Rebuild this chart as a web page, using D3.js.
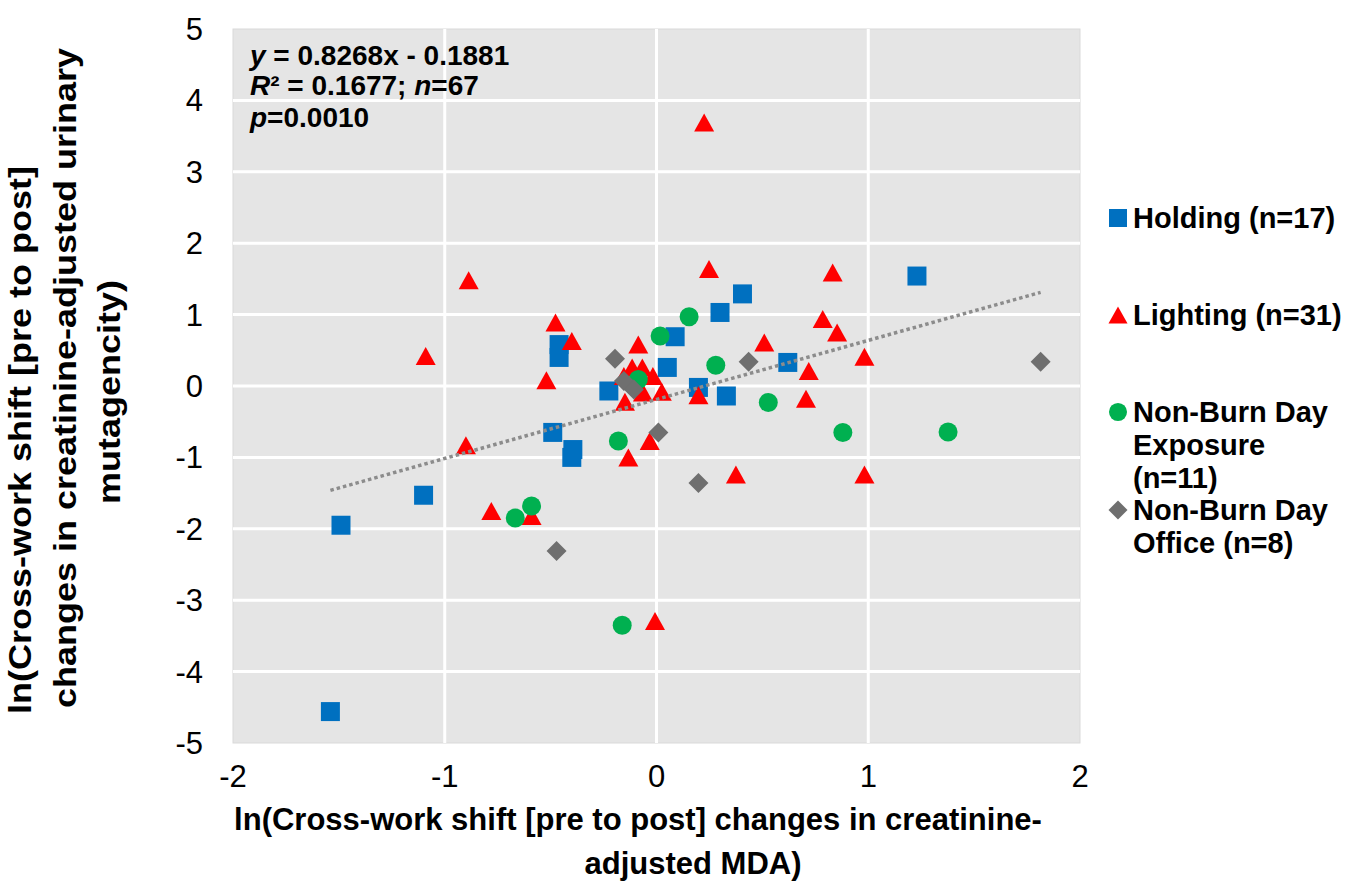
<!DOCTYPE html>
<html>
<head>
<meta charset="utf-8">
<script src="https://cdn.jsdelivr.net/npm/d3@7"></script>
<style>
body {margin:0; background:#fff; overflow:hidden;}
text {font-family: "Liberation Sans", Arial, sans-serif; fill:#000;}
</style>
</head>
<body>
<div id="canvas"></div>
<script>

// values
var xTicks = [-2, -1, 0, 1, 2];
var yTicks = [5, 4, 3, 2, 1, 0, -1, -2, -3, -4, -5];

var holding = [[1.23,1.54],[-1.49,-1.95],[-1.10,-1.53],[-1.54,-4.56],[-0.46,0.58],[-0.46,0.40],
  [-0.225,-0.07],[-0.49,-0.65],[-0.395,-0.89],[-0.40,-1.0],[0.088,0.69],[0.051,0.26],
  [0.198,-0.02],[0.33,-0.14],[0.30,1.03],[0.406,1.29],[0.62,0.33]];

var lighting = [[0.225,3.69],[-1.09,0.42],[-0.887,1.48],[-0.90,-0.83],[-0.78,-1.75],[-0.59,-1.82],
  [-0.52,0.08],[-0.477,0.89],[-0.40,0.63],[-0.086,0.58],[-0.154,0.14],[-0.115,0.26],
  [-0.067,0.26],[-0.017,0.14],[-0.064,-0.09],[0.025,-0.08],[-0.149,-0.22],[0.198,-0.13],
  [-0.032,-0.77],[-0.133,-1.0],[0.375,-1.24],[0.248,1.64],[0.832,1.59],[0.785,0.94],
  [0.853,0.75],[0.509,0.61],[0.719,0.21],[0.706,-0.18],[0.982,0.41],[0.982,-1.24],[-0.007,-3.29]];

var nbExposure = [[0.154,0.97],[0.017,0.70],[0.28,0.29],[-0.086,0.09],[-0.18,-0.77],[0.528,-0.23],
  [0.88,-0.65],[1.377,-0.645],[-0.667,-1.85],[-0.59,-1.68],[-0.162,-3.35]];

var nbOffice = [[-0.196,0.38],[-0.154,0.07],[-0.107,-0.05],[0.009,-0.65],[0.435,0.34],
  [0.198,-1.36],[-0.472,-2.31],[1.814,0.34]];

var slope = 0.8268, intercept = -0.1881;

var seriesNames = [["Holding (n=17)"], ["Lighting (n=31)"],
  ["Non-Burn Day", "Exposure", "(n=11)"], ["Non-Burn Day", "Office (n=8)"]];
var seriesColors = ["#0070C0", "#FF0000", "#00B050", "#6F6F6F"];

var width = 1348, height = 890;
var pLeft = 233, pRight = 1080, pTop = 29, pBottom = 743;

var svg = d3.select("#canvas").append("svg")
    .attr("width", width)
    .attr("height", height);

var x = d3.scaleLinear().domain([-2, 2]).range([pLeft, pRight]);
var y = d3.scaleLinear().domain([-5, 5]).range([pBottom, pTop]);

// plot area
svg.append("rect")
    .attr("x", pLeft).attr("y", pTop)
    .attr("width", pRight - pLeft).attr("height", pBottom - pTop)
    .style("fill", "#E5E5E5")
    .style("stroke", "#D9D9D9");

svg.append("g").selectAll("line").data(xTicks.slice(1, -1))
    .enter().append("line")
    .attr("x1", function (d) { return x(d) }).attr("x2", function (d) { return x(d) })
    .attr("y1", pTop).attr("y2", pBottom)
    .style("stroke", "#fff").style("stroke-width", 3);

svg.append("g").selectAll("line").data(yTicks.slice(1, -1))
    .enter().append("line")
    .attr("y1", function (d) { return y(d) }).attr("y2", function (d) { return y(d) })
    .attr("x1", pLeft).attr("x2", pRight)
    .style("stroke", "#fff").style("stroke-width", 3);

// tick labels
svg.append("g").selectAll("text").data(xTicks)
    .enter().append("text")
    .attr("x", function (d) { return x(d) })
    .attr("y", 787)
    .attr("text-anchor", "middle")
    .attr("font-size", "31px")
    .text(function (d) { return d });

svg.append("g").selectAll("text").data(yTicks)
    .enter().append("text")
    .attr("x", 203)
    .attr("y", function (d) { return y(d) + 11 })
    .attr("text-anchor", "end")
    .attr("font-size", "31px")
    .text(function (d) { return d });

// axis titles
var xt = svg.append("text")
    .attr("text-anchor", "middle")
    .attr("font-size", "31px")
    .attr("font-weight", "bold");
xt.append("tspan").attr("x", 638).attr("y", 830).text("ln(Cross-work shift [pre to post] changes in creatinine-");
xt.append("tspan").attr("x", 693).attr("y", 874).text("adjusted MDA)");

var yTitle = ["ln(Cross-work shift [pre to post]", "changes in creatinine-adjusted urinary", "mutagencity)"];
var yTitleX = [31, 76, 120];
var yTitleY = [440, 378, 392];
svg.append("g").selectAll("text").data(yTitle)
    .enter().append("text")
    .attr("transform", function (d, i) {
        return "translate(" + yTitleX[i] + "," + yTitleY[i] + ") scale(0.87,1) rotate(-90)"
    })
    .attr("text-anchor", "middle")
    .attr("font-size", "36px")
    .attr("font-weight", "bold")
    .text(function (d) { return d });

// markers
function markerPath(kind) {
    if (kind == 0) return "M-9.5,-9.5H9.5V9.5H-9.5Z";
    if (kind == 1) return "M0,-9L10,9H-10Z";
    if (kind == 2) return "M-9.5,0A9.5,9.5 0 1,0 9.5,0A9.5,9.5 0 1,0 -9.5,0Z";
    return "M0,-10L10,0L0,10L-10,0Z";
}

[holding, lighting, nbExposure, nbOffice].forEach(function (pts, k) {
    svg.append("g").selectAll("path").data(pts)
        .enter().append("path")
        .attr("d", markerPath(k))
        .attr("transform", function (d) { return "translate(" + x(d[0]) + "," + y(d[1]) + ")" })
        .style("fill", seriesColors[k]);
});

// trend line over the full data range
var allX = holding.concat(lighting, nbExposure, nbOffice).map(function (d) { return d[0] });
var xr = d3.extent(allX);
svg.append("line")
    .attr("x1", x(xr[0])).attr("y1", y(slope * xr[0] + intercept))
    .attr("x2", x(xr[1])).attr("y2", y(slope * xr[1] + intercept))
    .style("stroke", "#8C8C8C")
    .style("stroke-width", 3.5)
    .style("stroke-dasharray", "3.5,3");

// stats text
var st = svg.append("text").attr("font-size", "28px").attr("font-weight", "bold");
var s1 = st.append("tspan").attr("x", 250).attr("y", 65);
s1.append("tspan").attr("font-style", "italic").text("y");
s1.append("tspan").text(" = 0.8268x - 0.1881");
var s2 = st.append("tspan").attr("x", 250).attr("y", 95);
s2.append("tspan").attr("font-style", "italic").text("R");
s2.append("tspan").text("² = 0.1677; ");
s2.append("tspan").attr("font-style", "italic").text("n");
s2.append("tspan").text("=67");
var s3 = st.append("tspan").attr("x", 250).attr("y", 127);
s3.append("tspan").attr("font-style", "italic").text("p");
s3.append("tspan").text("=0.0010");

// legend
var legendY = [218, 315, 412, 510];
seriesNames.forEach(function (lines, k) {
    var g = svg.append("g");
    g.append("path")
        .attr("d", markerPath(k))
        .attr("transform", "translate(1118," + legendY[k] + ") scale(0.95)")
        .style("fill", seriesColors[k]);
    g.selectAll("text").data(lines)
        .enter().append("text")
        .attr("x", 1133)
        .attr("y", function (d, i) { return legendY[k] + 10 + i * 33 })
        .attr("font-size", "29px")
        .attr("font-weight", "bold")
        .text(function (d) { return d });
});

</script>
</body>
</html>
